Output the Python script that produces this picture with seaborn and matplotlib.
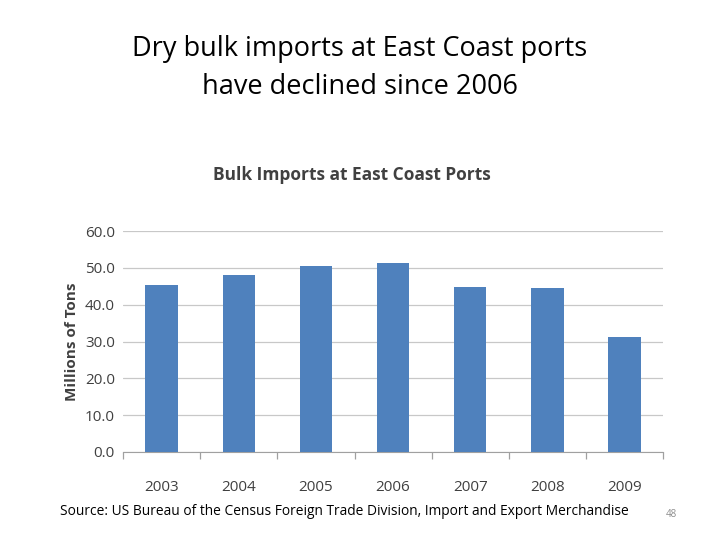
import matplotlib
matplotlib.use("Agg")
import matplotlib.pyplot as plt
import seaborn as sns
import pandas as pd
import numpy as np

years = ["2003", "2004", "2005", "2006", "2007", "2008", "2009"]
tons = [45.4, 48.1, 50.6, 51.4, 44.9, 44.6, 31.3]
yticks = [0, 10, 20, 30, 40, 50, 60]

sns.set_style("white")
plt.rcParams['font.family'] = ['Open Sans', 'DejaVu Sans']

fig = plt.figure(figsize=(7.2, 5.4), dpi=100)
ax = fig.add_axes([0.171, 0.163, 0.75, 0.409])
df = pd.DataFrame({"year": years, "tons": tons})
sns.barplot(data=df, x="year", y="tons", color="#4f81bd", width=0.42, ax=ax,
            zorder=3, saturation=1, linewidth=0)
ax.set_ylim(0, 60)
ax.set_yticks(yticks)
ax.set_yticklabels([f"{v:.1f}" for v in yticks], fontsize=11, color="#404040")
ax.tick_params(axis='x', which='major', labelsize=11, labelcolor="#404040", length=0, pad=20)
ax.tick_params(axis='y', length=0, pad=6)
ax.yaxis.grid(True, color="#c8c8c8", lw=0.9, zorder=0)
ax.set_xticks(np.arange(-0.5, 7, 1), minor=True)
ax.tick_params(axis='x', which='minor', length=5, width=0.9, color="#a0a0a0",
               direction='out', bottom=True)
for s in ["top", "right", "left"]:
    ax.spines[s].set_visible(False)
ax.spines["bottom"].set_color("#a0a0a0")
ax.set_xlim(-0.5, 6.5)
ax.set_xlabel("")
ax.set_ylabel("Millions of Tons", fontsize=11, fontweight="bold", color="#404040", labelpad=4)

fig.text(0.5, 0.874, "Dry bulk imports at East Coast ports\nhave declined since 2006",
         ha="center", va="center", fontsize=19.5, linespacing=1.45, color="black")
fig.text(0.489, 0.676, "Bulk Imports at East Coast Ports", ha="center", va="center",
         fontsize=12.5, fontweight="bold", color="#404040")
fig.text(0.084, 0.052, "Source: US Bureau of the Census Foreign Trade Division, Import and Export Merchandise",
         ha="left", va="center", fontsize=9.9, color="black")
fig.text(0.932, 0.048, "48", ha="center", va="center", fontsize=7, color="#8c8c8c")
fig.savefig("out.png", dpi=100)
